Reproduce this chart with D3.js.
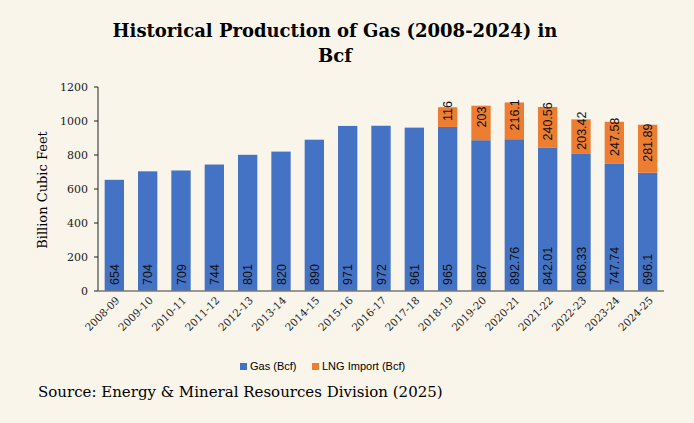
<!DOCTYPE html>
<html>
<head>
<meta charset="utf-8">
<style>
  body { margin:0; background:#f9f5eb; }
  svg { font-family: "DejaVu Serif", serif; }
</style>
</head>
<body>
<script src="https://d3js.org/d3.v7.min.js"></script>
<svg width="694" height="423"></svg>
<script>
var years = ["2008-09","2009-10","2010-11","2011-12","2012-13","2013-14","2014-15","2015-16","2016-17","2017-18","2018-19","2019-20","2020-21","2021-22","2022-23","2023-24","2024-25"];
var gas = [654,704,709,744,801,820,890,971,972,961,965,887,892.76,842.01,806.33,747.74,696.1];
var lng = [0,0,0,0,0,0,0,0,0,0,116,203,216.1,240.56,203.42,247.58,281.89];
var yTicks = [0,200,400,600,800,1000,1200];

var svg = d3.select("svg");
svg.append("rect").attr("width",694).attr("height",423).attr("fill","#f9f5eb");

var mLeft = 98, mRight = 664, mTop = 87, mBottom = 291;
var x = d3.scaleBand().domain(years).range([mLeft, mRight]).paddingInner(0.42).paddingOuter(0.2);
var y = d3.scaleLinear().domain([0,1200]).range([mBottom, mTop]);

// title
svg.append("text").attr("x",335).attr("y",37).attr("text-anchor","middle")
  .attr("font-size",18).attr("font-weight","bold").text("Historical Production of Gas (2008-2024) in");
svg.append("text").attr("x",335).attr("y",62).attr("text-anchor","middle")
  .attr("font-size",18).attr("font-weight","bold").text("Bcf");

// bars
svg.selectAll(".gas").data(years).enter().append("rect")
  .attr("x", d => x(d)).attr("width", x.bandwidth())
  .attr("y", (d,i) => y(gas[i])).attr("height", (d,i) => mBottom - y(gas[i]))
  .attr("fill","#4472c4");
svg.selectAll(".lng").data(years).enter().filter((d,i) => lng[i] > 0).append("rect")
  .attr("x", d => x(d)).attr("width", x.bandwidth())
  .attr("y", d => { var i = years.indexOf(d); return y(gas[i] + lng[i]); })
  .attr("height", d => { var i = years.indexOf(d); return y(gas[i]) - y(gas[i] + lng[i]); })
  .attr("fill","#ed7d31");

// labels
svg.selectAll(".gl").data(years).enter().append("text")
  .attr("transform", d => "translate(" + (x(d) + x.bandwidth()/2 + 4.5) + "," + (mBottom - 6) + ") rotate(-90)")
  .attr("font-family","Liberation Sans, sans-serif").attr("font-size",12.5).attr("fill","#111")
  .text((d,i) => gas[i]);
svg.selectAll(".ll").data(years).enter().filter((d,i) => lng[i] > 0).append("text")
  .attr("transform", d => { var i = years.indexOf(d);
    var cy = (y(gas[i]) + y(gas[i] + lng[i])) / 2 - 6;
    return "translate(" + (x(d) + x.bandwidth()/2 + 4.5) + "," + cy + ") rotate(-90)"; })
  .attr("text-anchor","middle")
  .attr("font-family","Liberation Sans, sans-serif").attr("font-size",12.5).attr("fill","#111")
  .text(d => lng[years.indexOf(d)]);

// axes
svg.append("line").attr("x1",mLeft).attr("x2",mLeft).attr("y1",mTop).attr("y2",mBottom).attr("stroke","#222");
svg.append("line").attr("x1",mLeft).attr("x2",mRight).attr("y1",mBottom).attr("y2",mBottom).attr("stroke","#777").attr("stroke-width",1.5);
yTicks.forEach(function(t) {
  svg.append("line").attr("x1",mLeft-4).attr("x2",mLeft).attr("y1",y(t)).attr("y2",y(t)).attr("stroke","#222");
  svg.append("text").attr("x",mLeft-10).attr("y",y(t)+4).attr("text-anchor","end")
    .attr("font-size",11).attr("fill","#222").text(t);
});
svg.append("text").attr("transform","translate(47,190) rotate(-90)").attr("text-anchor","middle")
  .attr("font-size",13).text("Billion Cubic Feet");
svg.selectAll(".xl").data(years).enter().append("text")
  .attr("transform", d => "translate(" + (x(d) + x.bandwidth()/2 + 6) + "," + (mBottom + 10) + ") rotate(-45)")
  .attr("text-anchor","end").attr("font-size",10.5).attr("fill","#222").text(d => d);

// legend
var lg = svg.append("g").attr("font-family","Liberation Sans, sans-serif").attr("font-size",11);
lg.append("rect").attr("x",240).attr("y",363).attr("width",7).attr("height",7).attr("fill","#4472c4");
lg.append("text").attr("x",250).attr("y",370).text("Gas (Bcf)");
lg.append("rect").attr("x",312).attr("y",363).attr("width",7).attr("height",7).attr("fill","#ed7d31");
lg.append("text").attr("x",322).attr("y",370).text("LNG Import (Bcf)");

svg.append("text").attr("x",38).attr("y",397).attr("font-size",15).text("Source: Energy & Mineral Resources Division (2025)");
</script>
</body>
</html>
